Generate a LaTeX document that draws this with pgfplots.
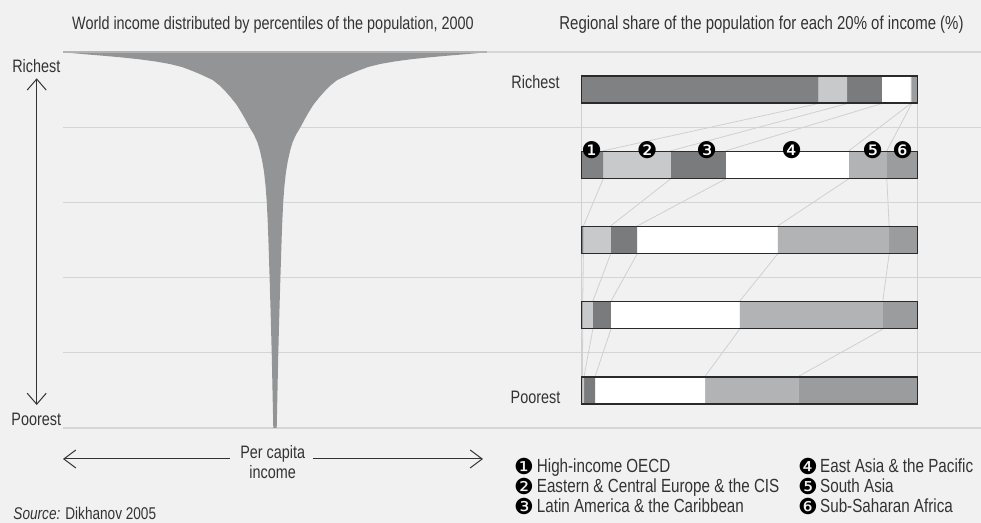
\documentclass[border=0pt]{standalone}
\usepackage{pgfplots}
\pgfplotsset{compat=1.18}
\usepackage{pgfplotstable}
\usepackage{fontspec}
\setmainfont{Liberation Sans}[FakeStretch=0.8]
\newfontfamily\dingfont{DejaVu Sans}
\usetikzlibrary{arrows.meta}
\definecolor{bg}{HTML}{F1F1F1}
\definecolor{gridc}{HTML}{D5D5D5}
\definecolor{txt}{HTML}{333333}
\definecolor{funnel}{HTML}{939496}
\definecolor{sA}{HTML}{808183}
\definecolor{sB}{HTML}{C8C9CB}
\definecolor{sC}{HTML}{7A7B7D}
\definecolor{sD}{HTML}{FFFFFF}
\definecolor{sE}{HTML}{B1B3B5}
\definecolor{sF}{HTML}{9B9C9E}
\definecolor{conn}{HTML}{D0D0D0}
\definecolor{outl}{HTML}{2A2A2A}

% regional shares (%) of each income quintile: 0 = poorest ... 4 = richest
\pgfplotstableread{
y  a    b    c    d    e    f
0  0.2  0.5  3.3  32.7 27.8 35.5
1  0.3  3.0  5.4  38.3 42.6 10.4
2  0.5  8.1  7.9  41.8 33.2 8.5
3  6.4  20.1 16.4 36.6 11.3 9.2
4  70.4 8.6  10.3 8.6  0.3  1.8
}\shares

\newcommand\tf{\fontsize{18bp}{21bp}\selectfont}
\newcommand\rtf{\fontsize{18.7bp}{21bp}\selectfont}
\newcommand\lf{\fontsize{19bp}{22bp}\selectfont}
\newcommand\df{\dingfont\fontsize{23bp}{23bp}\selectfont}
\newcommand\dlf{\dingfont\fontsize{22bp}{22bp}\selectfont}

\pgfplotsset{rightax/.style={at={(581.7bp,95bp)}, anchor=south west, scale only axis,
  width=336bp, height=376bp, xmin=0, xmax=100, ymin=-0.5, ymax=4.5, hide axis, clip=false}}

\begin{document}
\begin{tikzpicture}[x=1bp,y=1bp]
\useasboundingbox (0,0) rectangle (981,523);
\clip (0,0) rectangle (981,523);
\fill[bg] (0,0) rectangle (981,523);
\foreach \yy in {95,170.2,245.4,320.6,395.8,471}
  \draw[gridc, line width=1.2bp] (63,\yy) -- (981,\yy);

% ---- left: world income by percentile
\begin{axis}[at={(63bp,95bp)}, anchor=south west, scale only axis, width=424bp, height=376bp,
  xmin=-212, xmax=212, ymin=0, ymax=100, hide axis, clip=false]
\addplot[fill=funnel, draw=none] coordinates {
(-1.7,0) (-2.5,10) (-3.3,20) (-4.3,30) (-5.4,40) (-6.6,50) (-7.3,55) (-8.2,60)
(-9.3,64) (-10.9,68) (-12.8,71) (-15.3,74) (-17.6,76) (-21,78) (-25.5,80) (-29.5,82)
(-33.8,84) (-38.5,86) (-44.5,88) (-49.5,89.5) (-55,91) (-62,92.5) (-74,94) (-83,95)
(-93,96) (-105,96.8) (-120,97.5) (-137,98.1) (-155,98.6) (-172,99) (-190,99.4) (-203,99.7) (-212,100)
(212,100) (203,99.7) (190,99.4) (172,99) (155,98.6) (137,98.1) (120,97.5) (105,96.8)
(93,96) (83,95) (74,94) (62,92.5) (55,91) (49.5,89.5) (44.5,88) (38.5,86) (33.8,84)
(29.5,82) (25.5,80) (21,78) (17.6,76) (15.3,74) (12.8,71) (10.9,68) (9.3,64) (8.2,60)
(7.3,55) (6.6,50) (5.4,40) (4.3,30) (3.3,20) (2.5,10) (1.7,0)
} -- cycle;
\end{axis}
\draw[black!30, line width=2bp] (63,471) -- (487,471);

% ---- right: connectors
\begin{axis}[rightax]
\addplot[conn, line width=1.2bp] coordinates {(0,0) (0,4)};
\addplot[conn, line width=1.2bp] coordinates {(100,0) (100,4)};
\addplot[conn, line width=0.8bp, unbounded coords=jump] coordinates {
(70.4,3.814) (6.4,3.186) (nan,nan) (79.0,3.814) (26.5,3.186) (nan,nan)
(89.3,3.814) (42.9,3.186) (nan,nan) (97.9,3.814) (79.5,3.186) (nan,nan)
(98.2,3.814) (90.8,3.186) (nan,nan)
(6.4,2.814) (0.5,2.186) (nan,nan) (26.5,2.814) (8.6,2.186) (nan,nan)
(42.9,2.814) (16.5,2.186) (nan,nan) (79.5,2.814) (58.3,2.186) (nan,nan)
(90.8,2.814) (91.5,2.186) (nan,nan)
(0.5,1.814) (0.3,1.186) (nan,nan) (8.6,1.814) (3.3,1.186) (nan,nan)
(16.5,1.814) (8.7,1.186) (nan,nan) (58.3,1.814) (47.0,1.186) (nan,nan)
(91.5,1.814) (89.6,1.186) (nan,nan)
(0.3,0.814) (0.2,0.186) (nan,nan) (3.3,0.814) (0.7,0.186) (nan,nan)
(8.7,0.814) (4.0,0.186) (nan,nan) (47.0,0.814) (36.7,0.186) (nan,nan)
(89.6,0.814) (64.5,0.186)
};
\end{axis}

% ---- right: stacked bars
\begin{axis}[rightax, xbar stacked, bar width=27bp]
\addplot[fill=sA, draw=none] table[x=a, y=y] {\shares};
\addplot[fill=sB, draw=none] table[x=b, y=y] {\shares};
\addplot[fill=sC, draw=none] table[x=c, y=y] {\shares};
\addplot[fill=sD, draw=none] table[x=d, y=y] {\shares};
\addplot[fill=sE, draw=none] table[x=e, y=y] {\shares};
\addplot[fill=sF, draw=none] table[x=f, y=y] {\shares};
\end{axis}

% ---- right: outlines and numbers
\begin{axis}[rightax, xbar, bar width=27bp]
\addplot[draw=outl, fill=none, line width=1.3bp] coordinates {(100,0) (100,1) (100,2) (100,3) (100,4)};
\foreach \xx/\nn in {3.0/❶, 19.5/❷, 37.2/❸, 62.5/❹, 86.6/❺, 95.5/❻}{
  \edef\tmp{\noexpand\node[circle, fill=white, minimum size=11bp, inner sep=0pt] at (axis cs:\xx,3.19) {};
  \noexpand\node[inner sep=0pt, text=black, font=\noexpand\df] at (axis cs:\xx,3.19) {\nn};}
  \tmp
}
\end{axis}

% ---- texts
\node[txt, anchor=base, font=\tf] at (273,493.7) {World income distributed by percentiles of the population, 2000};
\node[txt, anchor=base, font=\rtf] at (761.5,493.7) {Regional share of the population for each 20\% of income (\%)};
\node[txt, anchor=base, font=\tf] at (36.3,450.3) {Richest};
\node[txt, anchor=base, font=\tf] at (36.3,97) {Poorest};
\node[txt, anchor=base, font=\tf] at (535.5,434.7) {Richest};
\node[txt, anchor=base, font=\tf] at (535.5,119) {Poorest};
\draw[txt, line width=1bp, {Straight Barb[length=11bp,width=19bp]}-{Straight Barb[length=11bp,width=19bp]}] (36.7,444.7) -- (36.7,118);
\draw[txt, line width=1bp, -{Straight Barb[length=12bp,width=18bp]}] (230,64) -- (63,64);
\draw[txt, line width=1bp, -{Straight Barb[length=12bp,width=18bp]}] (313,64) -- (483,64);
\node[txt, anchor=base, font=\tf] at (272.7,64) {Per capita};
\node[txt, anchor=base, font=\tf] at (272.7,44) {income};
\node[txt, anchor=base west, inner sep=0pt, font=\fontsize{17bp}{20bp}\selectfont] at (13.3,3) {\textit{Source:} Dikhanov 2005};

% legend
\foreach \yy/\nn/\lab in {50.5/❶/High-income OECD, 30.5/❷/Eastern \& Central Europe \& the CIS, 10.5/❸/Latin America \& the Caribbean}{
  \node[inner sep=0pt, text=black, font=\dlf] at (524,\yy+6.5) {\nn};
  \node[txt, anchor=base west, inner sep=0pt, font=\lf] at (536.7,\yy) {\lab};
}
\foreach \yy/\nn/\lab in {50.5/❹/East Asia \& the Pacific, 30.5/❺/South Asia, 10.5/❻/Sub-Saharan Africa}{
  \node[inner sep=0pt, text=black, font=\dlf] at (808,\yy+6.5) {\nn};
  \node[txt, anchor=base west, inner sep=0pt, font=\lf] at (820,\yy) {\lab};
}
\end{tikzpicture}
\end{document}
